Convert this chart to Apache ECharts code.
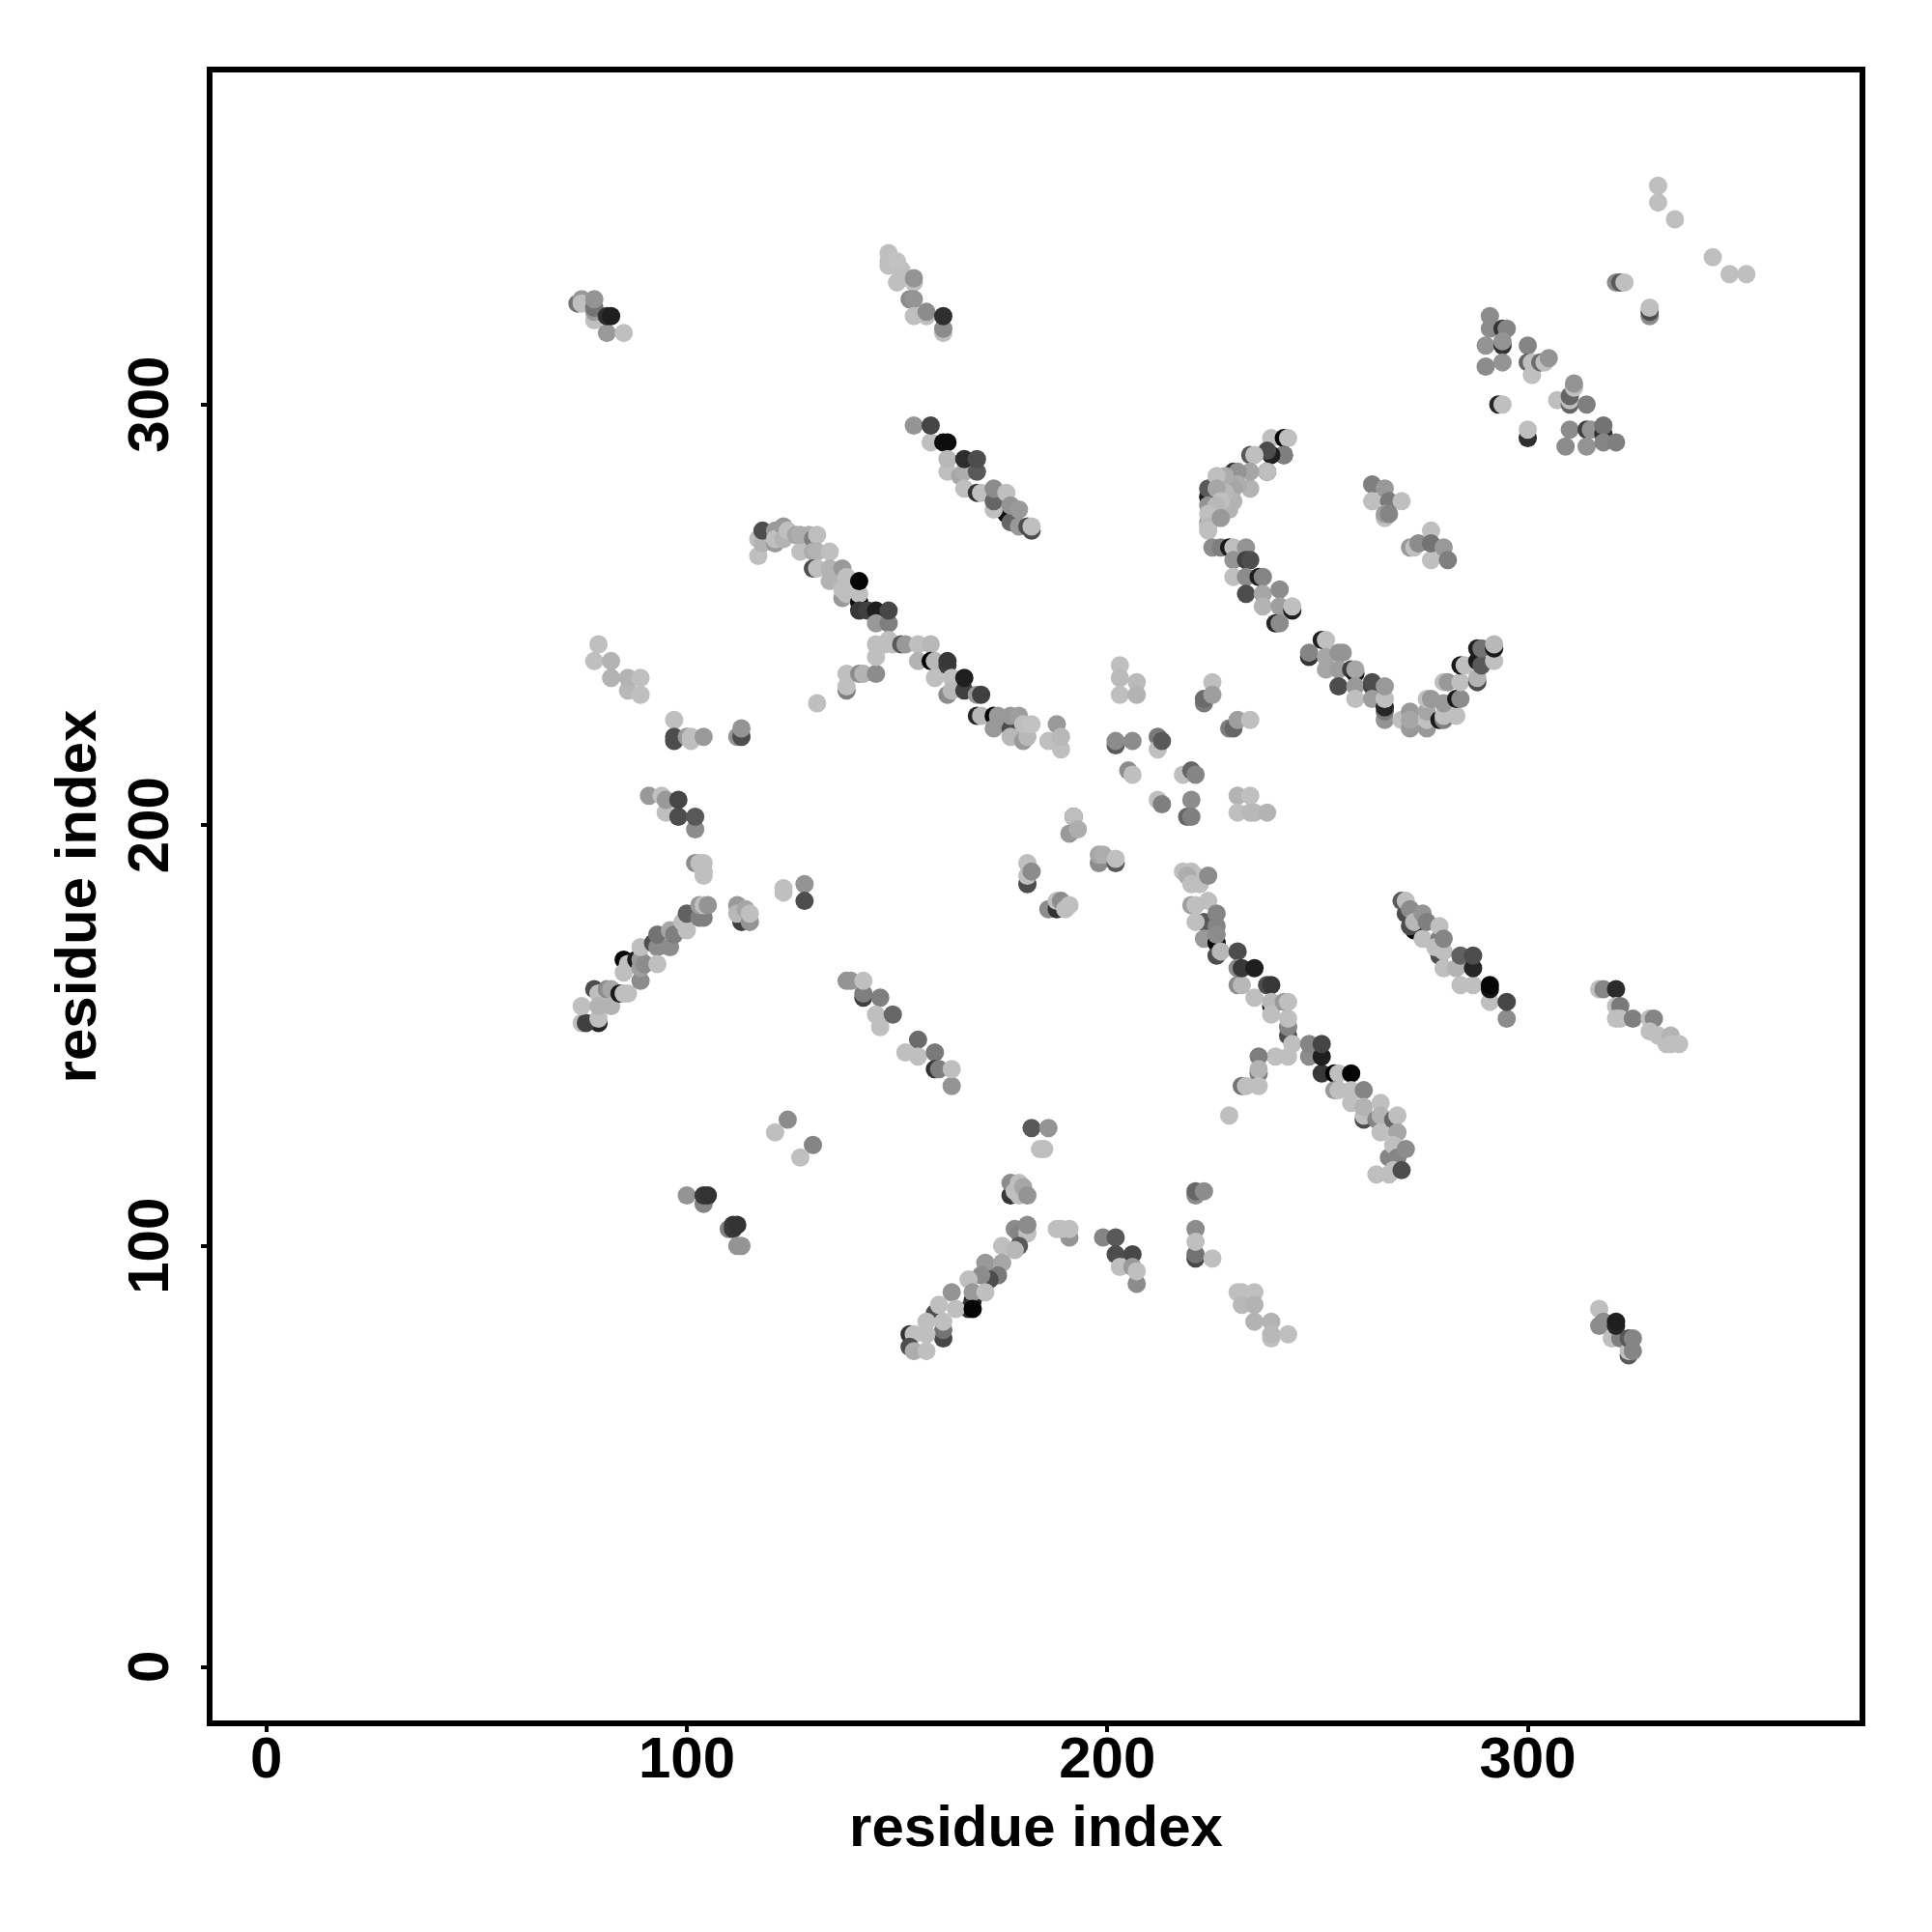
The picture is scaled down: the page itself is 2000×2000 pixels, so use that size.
<!DOCTYPE html>
<html><head><meta charset="utf-8">
<style>html,body{margin:0;padding:0;background:#fff}#c{width:2000px;height:2000px}</style>
<script src="https://cdn.jsdelivr.net/npm/echarts@6/dist/echarts.min.js"></script>
</head><body><div id="c"></div>
<script>
// Each contact: [residue i, residue j, lightness percent]
const topLeft=[[74,324,45],[75,325,60],[75,324,75],[78,320,75],[78,322,60],[78,323,45],[78,325,58],[81,317,60],[85,317,75],[81,321,18],[82,321,12]];
const topMid=[[148,336,75],[148,334,75],[148,333,75],[150,334,76],[151,332,76],[151,331,75],[150,329,75],[154,329,75],[154,330,58],[153,325,55],[154,325,58],[154,321,75],[157,321,75],[157,322,55],[161,317,75],[161,318,55],[161,321,18]];
const upperBand=[[154,295,58],[158,291,75],[158,295,27],[161,291,5],[162,291,5],[162,284,75],[162,287,72],[165,283,65],[166,284,68],[166,280,75],[166,287,18],[169,279,20],[170,279,75],[169,284,35],[169,287,30],[176,274,3],[173,275,75],[173,277,40],[173,280,55],[177,272,40],[176,279,75],[177,276,58],[179,271,60],[179,275,60],[181,271,30],[182,270,30],[182,271,75]];
const mainBand=[[117,264,75],[117,268,75],[118,267,70],[118,270,30],[121,267,60],[121,270,60],[121,268,75],[123,271,60],[123,268,70],[124,270,75],[127,265,75],[126,269,65],[127,269,68],[129,269,68],[130,268,50],[131,269,75],[130,265,68],[131,265,70],[134,265,75],[130,261,30],[131,261,75],[134,258,70],[134,261,70],[137,254,60],[137,261,60],[137,256,75],[138,255,75],[138,259,75],[141,253,3],[141,255,75],[141,258,2],[141,251,22],[143,251,25],[145,251,12],[145,248,60],[148,248,50],[148,251,28],[148,244,75],[145,243,75],[147,243,75],[149,243,75],[151,243,35],[152,243,60],[155,243,75],[158,243,72],[155,239,70],[158,239,2],[159,239,72],[159,235,75],[162,238,25],[162,239,22],[163,235,75],[162,231,55],[163,232,72],[166,232,25],[166,235,12],[169,231,60],[170,231,25],[169,226,15],[170,226,72],[173,226,2],[173,223,60],[174,226,60],[177,223,30],[177,221,72],[177,226,60],[179,226,62],[180,220,60],[181,221,72],[180,224,75],[182,224,76],[186,220,75],[188,224,60],[189,218,75],[189,221,72]];
const mainBranch=[[131,229,75],[138,236,75],[138,232,50],[138,233,75],[141,236,55],[142,236,70],[145,236,55],[145,240,75]];
const leftUpper=[[79,243,75],[78,239,75],[82,239,70],[82,235,70],[86,232,72],[86,235,70],[89,231,75],[89,235,75]];
const leftMid=[[97,225,75],[97,220,30],[97,221,30],[100,221,60],[101,220,75],[101,221,75],[104,221,60],[112,221,58],[113,221,30],[113,223,58]];
const leftPair=[[91,207,60],[94,207,75],[95,203,75],[95,206,60],[98,202,30],[98,206,28],[102,199,55],[102,202,35]];
const leftCore=[[102,191,55],[103,191,75],[104,191,75],[104,189,75],[104,188,75],[123,185,75],[123,184,75],[128,186,58],[128,182,30],[113,177,25],[112,181,60],[112,179,72],[115,177,58],[114,180,65],[115,179,75]];
const leftDiagonal=[[79,153,15],[75,153,75],[76,153,25],[75,157,75],[79,154,75],[78,161,30],[79,160,75],[79,157,70],[81,161,55],[82,161,65],[82,157,70],[84,160,10],[85,168,3],[85,160,75],[86,160,75],[85,165,75],[86,167,75],[88,168,10],[89,163,55],[89,166,62],[89,168,60],[90,167,55],[89,171,75],[92,172,30],[93,171,55],[93,174,45],[93,167,75],[96,171,55],[96,175,65],[97,174,50],[100,175,75],[99,177,75],[100,179,38],[103,178,50],[104,178,50],[103,181,60],[104,181,75],[105,181,58]];
const rightTip=[[331,352,75],[331,348,75],[335,344,75],[344,335,75],[348,331,75],[352,331,75],[321,329,55],[322,329,35],[323,329,75],[329,321,55],[329,322,30],[329,323,75]];
const rightCluster=[[291,321,55],[291,318,55],[294,318,20],[295,318,52],[290,314,58],[294,314,20],[294,315,58],[294,310,58],[290,309,55],[300,314,52],[300,310,40],[301,307,75],[301,310,75],[303,310,42],[304,310,75],[305,311,58],[307,301,75],[310,300,40],[310,301,75],[310,302,40],[311,304,75],[311,305,58],[314,300,50],[293,300,15],[294,300,75],[300,292,18],[300,294,75],[310,294,55],[314,294,25],[315,294,58],[318,293,18],[318,295,45],[309,290,55],[314,290,58],[318,291,52],[321,291,50]];
const rightSmall=[[263,281,50],[266,280,60],[263,277,75],[267,277,48],[270,277,75],[266,273,75],[266,274,62],[267,274,52],[277,270,75],[272,266,60],[273,266,75],[274,267,55],[277,263,75],[277,267,45],[280,266,60],[281,263,50]];
const arcUpper=[[224,278,10],[224,280,35],[230,284,20],[239,292,75],[242,292,3],[243,292,75],[242,288,18],[242,288,50],[239,288,12],[238,289,30],[238,284,15],[238,284,75],[234,288,35],[235,288,75],[234,280,70],[234,284,65],[231,284,58],[231,281,68],[230,280,65],[228,283,68],[226,283,75],[230,277,70],[229,275,70],[228,279,72],[226,280,65],[224,276,58],[227,277,75],[226,276,72],[224,272,60],[224,274,75],[224,271,72],[224,270,75],[227,273,60]];
const arcLower=[[225,266,55],[227,266,50],[229,266,10],[230,266,75],[233,266,58],[230,263,58],[233,263,25],[234,263,30],[230,259,75],[233,259,55],[236,259,12],[237,259,52],[233,255,30],[237,255,65],[241,256,55],[237,252,70],[241,252,62],[244,251,12],[244,252,75],[240,248,15],[241,248,55]];
const arcBottom=[[251,244,12],[252,244,75],[248,240,20],[248,241,52],[252,240,65],[255,241,58],[256,241,58],[252,237,65],[255,237,62],[258,237,25],[259,236,12],[259,237,65],[255,233,30],[259,233,60],[259,230,75],[263,233,25],[263,234,30],[263,230,62],[266,225,58],[266,227,48],[266,228,15],[266,230,75],[266,233,60],[270,225,75],[272,227,60],[272,223,60],[272,225,65],[276,223,60],[276,225,75],[276,227,65],[276,230,75],[277,230,60],[279,225,10],[280,225,50],[280,226,75],[283,226,75],[280,229,60],[280,234,75],[281,234,60],[283,230,10],[284,230,55],[284,234,75],[284,238,10],[285,238,75],[288,234,30],[288,235,70],[288,239,10],[288,242,12],[289,238,35],[289,242,45],[292,239,75],[292,242,10],[292,243,72]];
const centerUpper=[[225,234,75],[223,229,48],[223,230,42],[225,231,62],[229,223,50],[230,223,40],[231,225,62],[234,225,75],[203,238,75],[203,235,73],[203,231,75],[207,234,73],[207,231,70],[231,207,70],[234,207,75],[231,203,75],[234,203,72],[235,203,72],[238,203,70]];
const centerMid=[[202,219,35],[202,220,55],[206,220,55],[212,221,48],[212,218,75],[213,220,35],[205,213,55],[206,212,75],[218,212,75],[220,213,40],[221,212,52],[212,206,75],[213,205,50],[220,206,55],[219,202,40],[220,202,50],[192,202,30],[192,202,75],[191,198,60],[193,199,68],[198,191,55],[198,193,65],[199,193,68],[202,191,35],[202,192,75],[181,186,30],[181,188,75],[181,191,75],[182,189,55],[186,180,55],[188,180,20],[188,182,75],[189,182,55],[190,180,75],[191,181,75]];
const lowerBand=[[218,189,75],[220,189,75],[221,188,75],[222,186,75],[219,188,68],[220,186,75],[224,188,55],[220,181,62],[221,181,75],[224,182,75],[223,177,35],[221,177,75],[226,179,52],[226,176,52],[223,173,60],[226,172,3],[226,174,55],[226,169,30],[227,170,72],[231,170,30],[231,162,55],[232,162,72],[231,166,55],[232,166,22],[235,166,12],[235,159,75],[238,162,30],[239,162,22],[239,157,5],[239,158,72],[239,155,75],[242,158,60],[243,158,75],[243,150,30],[243,152,52],[243,154,75],[244,148,75],[243,145,75],[240,145,75],[236,145,50],[236,141,50],[236,142,70],[232,138,45],[233,138,75],[236,138,75],[229,131,75]];
const lowerTail=[[248,145,55],[248,148,52],[251,141,22],[251,145,12],[251,148,27],[254,141,2],[255,141,75],[258,141,2],[254,137,60],[255,137,75],[258,137,75],[261,137,52],[258,134,75],[261,130,30],[261,131,75],[261,133,70],[265,134,75],[264,130,52],[265,131,70],[265,127,75],[268,130,40],[269,131,75],[269,127,65],[267,121,52],[268,124,75],[269,121,52],[271,123,55],[264,117,75],[267,117,75],[268,118,75],[270,118,30]];
const lowerRight=[[273,175,2],[271,179,30],[272,176,30],[270,182,35],[271,182,75],[272,180,55],[273,177,72],[275,173,75],[275,179,58],[276,177,50],[279,169,30],[279,173,50],[278,171,75],[279,176,75],[280,170,75],[280,173,52],[280,166,75],[283,166,70],[284,162,75],[284,169,38],[287,162,75],[287,166,15],[287,169,30],[291,158,75],[291,161,8],[291,162,2],[295,154,55],[295,158,28]];
const lowerRightTail=[[317,161,75],[318,161,52],[321,161,17],[321,157,75],[322,157,48],[321,154,75],[322,154,75],[325,154,50],[329,154,75],[330,154,52],[329,151,75],[331,150,75],[333,148,75],[334,150,70],[334,148,75],[336,148,75]];
const midLower=[[138,163,58],[139,163,58],[142,159,25],[142,160,50],[142,163,75],[146,159,50],[145,155,75],[146,152,75],[149,155,40],[155,149,42],[152,146,75],[155,145,75],[159,146,48],[159,142,20],[160,142,50],[163,138,58],[163,142,75],[124,130,55],[121,127,75],[130,124,52],[127,121,75]];
const lowerLeft=[[100,112,58],[104,110,52],[104,112,22],[105,112,20],[110,104,50],[111,104,22],[111,105,22],[112,105,20],[112,100,58],[113,100,58]];
const bottomV=[[182,128,35],[186,128,58],[184,123,75],[185,123,75],[177,112,22],[177,115,55],[178,113,75],[179,115,75],[179,112,75],[180,114,65],[181,112,58],[178,104,55],[179,103,52],[181,103,75],[181,105,55],[179,100,35],[175,100,75],[178,99,72],[171,96,60],[175,96,65],[174,93,48],[172,92,30],[170,93,55],[167,92,75],[168,87,15],[168,89,60],[171,89,75],[163,89,58],[167,85,20],[164,85,75],[168,85,2],[159,84,30],[160,86,75],[161,78,28],[161,80,45],[161,82,75],[157,82,75],[157,79,75],[153,79,20],[154,79,75],[153,76,30],[154,75,68],[157,75,75]];
const bottomRight=[[188,104,75],[191,102,58],[189,104,75],[191,104,75],[199,102,52],[202,102,35],[202,98,30],[206,98,28],[203,95,75],[207,91,55],[206,95,60],[207,94,75],[221,112,55],[221,113,40],[223,113,55],[221,104,55],[221,97,28],[221,98,45],[221,101,75],[225,97,75],[231,89,75],[232,89,75],[235,89,75],[232,86,72],[235,86,70],[235,82,70],[239,82,70],[239,78,75],[239,79,72],[243,79,75]];
const bottomFar=[[317,85,75],[317,81,55],[318,82,55],[320,78,75],[322,78,50],[321,81,15],[321,82,12],[324,74,35],[324,75,75],[324,78,35],[325,78,52],[325,75,52]];

const allContacts=[topLeft,topMid,upperBand,mainBand,mainBranch,leftUpper,leftMid,leftPair,leftCore,leftDiagonal,rightTip,rightCluster,rightSmall,arcUpper,arcLower,arcBottom,centerUpper,centerMid,lowerBand,lowerTail,lowerRight,lowerRightTail,midLower,lowerLeft,bottomV,bottomRight,bottomFar].flat();
const tickValues=[0,100,200,300];
const axisTitle="residue index";

const font='"Liberation Sans", Arimo, Helvetica, Arial, sans-serif';
const axisCommon=(extra)=>Object.assign({
  type:'value',min:-13.48,max:379.6,name:axisTitle,nameLocation:'middle',
  nameTextStyle:{fontFamily:font,fontWeight:'bold',fontSize:60,color:'#000'},
  splitLine:{show:false},
  axisLine:{show:false,onZero:false},
  axisTick:{show:true,length:9,lineStyle:{color:'#000',width:4},customValues:tickValues},
},extra);
const chart=echarts.init(document.getElementById('c'),null,{renderer:'canvas'});
chart.setOption({
  animation:false,backgroundColor:'#fff',
  grid:{left:217,top:72,width:1711,height:1712,show:true,borderColor:'#000',borderWidth:6,backgroundColor:'#fff'},
  xAxis:axisCommon({nameGap:80,
    axisLabel:{customValues:tickValues,margin:9,fontFamily:font,fontWeight:'bold',fontSize:60,color:'#000'}}),
  yAxis:axisCommon({nameGap:105,
    axisLabel:{customValues:tickValues,rotate:90,margin:60,fontFamily:font,fontWeight:'bold',fontSize:60,color:'#000',align:'center',verticalAlign:'middle'}}),
  series:[{type:'scatter',data:allContacts,symbol:'circle',symbolSize:19,large:false,progressive:0,
    encode:{x:0,y:1},
    itemStyle:{opacity:1,color:(p)=>{const g=Math.round(p.value[2]*2.55);return `rgb(${g},${g},${g})`;}}}]
});
</script></body></html>
